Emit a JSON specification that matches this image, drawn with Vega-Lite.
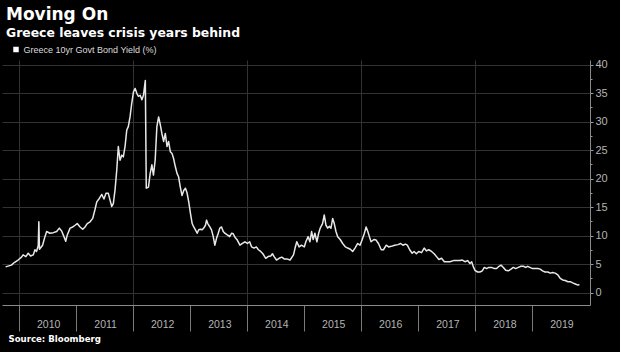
{
  "$schema": "https://vega.github.io/schema/vega-lite/v6.json",
  "width": 588,
  "height": 245,
  "autosize": {"type": "none"},
  "padding": {"left": 2, "top": 60, "right": 30, "bottom": 47},
  "background": "#000000",
  "title": {
    "text": "Moving On",
    "subtitle": "Greece leaves crisis years behind",
    "anchor": "start",
    "frame": "group",
    "font": "DejaVu Sans",
    "fontSize": 17,
    "fontWeight": "bold",
    "color": "#ffffff",
    "subtitleFont": "DejaVu Sans",
    "subtitleFontSize": 12.4,
    "subtitleFontWeight": "bold",
    "subtitleColor": "#ffffff",
    "subtitlePadding": 3,
    "offset": 5,
    "dx": 4
  },
  "config": {"view": {"stroke": null}},
  "data": {
    "values": [
      {"d": "2009-10-06", "v": 4.5}, {"d": "2009-11-12", "v": 4.8}, {"d": "2009-12-03", "v": 5.3}, {"d": "2009-12-25", "v": 5.7},
      {"d": "2010-01-16", "v": 6.2}, {"d": "2010-01-26", "v": 6.6}, {"d": "2010-02-13", "v": 6.3}, {"d": "2010-02-28", "v": 6.9},
      {"d": "2010-03-15", "v": 6.4}, {"d": "2010-04-01", "v": 6.6}, {"d": "2010-04-12", "v": 7.5}, {"d": "2010-04-22", "v": 7.2},
      {"d": "2010-05-03", "v": 8.2}, {"d": "2010-05-07", "v": 12.4}, {"d": "2010-05-11", "v": 7.6}, {"d": "2010-05-31", "v": 8.3},
      {"d": "2010-06-15", "v": 9.8}, {"d": "2010-06-26", "v": 10.7}, {"d": "2010-07-17", "v": 10.4}, {"d": "2010-08-08", "v": 10.5},
      {"d": "2010-08-29", "v": 10.7}, {"d": "2010-09-15", "v": 11.3}, {"d": "2010-09-30", "v": 10.8}, {"d": "2010-10-15", "v": 9.8},
      {"d": "2010-10-26", "v": 9.0}, {"d": "2010-11-05", "v": 10.1}, {"d": "2010-11-23", "v": 11.3}, {"d": "2010-12-10", "v": 11.5},
      {"d": "2010-12-25", "v": 11.8}, {"d": "2011-01-08", "v": 12.1}, {"d": "2011-01-26", "v": 11.5}, {"d": "2011-02-12", "v": 11.1},
      {"d": "2011-02-27", "v": 11.5}, {"d": "2011-03-13", "v": 12.1}, {"d": "2011-03-31", "v": 12.4}, {"d": "2011-04-17", "v": 13.0},
      {"d": "2011-05-02", "v": 14.6}, {"d": "2011-05-13", "v": 15.9}, {"d": "2011-05-29", "v": 16.5}, {"d": "2011-06-14", "v": 17.2},
      {"d": "2011-06-28", "v": 16.4}, {"d": "2011-07-11", "v": 17.4}, {"d": "2011-07-26", "v": 17.4}, {"d": "2011-08-06", "v": 16.2},
      {"d": "2011-08-17", "v": 15.1}, {"d": "2011-08-27", "v": 15.6}, {"d": "2011-09-07", "v": 18.0}, {"d": "2011-09-18", "v": 21.5},
      {"d": "2011-09-28", "v": 25.6}, {"d": "2011-10-09", "v": 23.2}, {"d": "2011-10-20", "v": 24.1}, {"d": "2011-10-30", "v": 23.8},
      {"d": "2011-11-10", "v": 25.6}, {"d": "2011-11-21", "v": 28.5}, {"d": "2011-12-01", "v": 29.1}, {"d": "2011-12-12", "v": 30.8},
      {"d": "2011-12-23", "v": 33.2}, {"d": "2012-01-03", "v": 35.2}, {"d": "2012-01-14", "v": 35.8}, {"d": "2012-01-25", "v": 34.9},
      {"d": "2012-02-04", "v": 34.4}, {"d": "2012-02-15", "v": 34.6}, {"d": "2012-02-26", "v": 33.8}, {"d": "2012-03-07", "v": 34.6},
      {"d": "2012-03-19", "v": 37.2}, {"d": "2012-03-25", "v": 18.3}, {"d": "2012-04-08", "v": 18.5}, {"d": "2012-04-19", "v": 20.9},
      {"d": "2012-04-30", "v": 22.4}, {"d": "2012-05-10", "v": 20.6}, {"d": "2012-05-21", "v": 23.2}, {"d": "2012-06-01", "v": 29.1},
      {"d": "2012-06-12", "v": 30.8}, {"d": "2012-06-23", "v": 29.4}, {"d": "2012-07-03", "v": 27.9}, {"d": "2012-07-14", "v": 26.5},
      {"d": "2012-07-25", "v": 27.9}, {"d": "2012-08-05", "v": 25.6}, {"d": "2012-08-15", "v": 26.5}, {"d": "2012-08-26", "v": 24.7},
      {"d": "2012-09-06", "v": 24.4}, {"d": "2012-09-16", "v": 23.5}, {"d": "2012-09-27", "v": 22.1}, {"d": "2012-10-08", "v": 20.9},
      {"d": "2012-10-18", "v": 20.3}, {"d": "2012-10-29", "v": 18.5}, {"d": "2012-11-09", "v": 17.0}, {"d": "2012-11-20", "v": 17.9},
      {"d": "2012-12-01", "v": 18.3}, {"d": "2012-12-11", "v": 17.5}, {"d": "2012-12-22", "v": 15.9}, {"d": "2013-01-02", "v": 13.9},
      {"d": "2013-01-13", "v": 12.1}, {"d": "2013-01-23", "v": 11.5}, {"d": "2013-02-03", "v": 11.0}, {"d": "2013-02-14", "v": 10.4},
      {"d": "2013-02-24", "v": 11.0}, {"d": "2013-03-07", "v": 11.1}, {"d": "2013-03-18", "v": 11.0}, {"d": "2013-03-28", "v": 11.3},
      {"d": "2013-04-08", "v": 11.8}, {"d": "2013-04-15", "v": 12.7}, {"d": "2013-04-23", "v": 12.1}, {"d": "2013-05-06", "v": 11.5},
      {"d": "2013-05-17", "v": 11.0}, {"d": "2013-05-28", "v": 9.8}, {"d": "2013-06-07", "v": 8.3}, {"d": "2013-06-18", "v": 9.5},
      {"d": "2013-06-29", "v": 10.4}, {"d": "2013-07-09", "v": 11.3}, {"d": "2013-07-20", "v": 11.5}, {"d": "2013-07-31", "v": 10.7},
      {"d": "2013-08-10", "v": 10.4}, {"d": "2013-08-26", "v": 10.1}, {"d": "2013-09-10", "v": 9.8}, {"d": "2013-09-23", "v": 10.4},
      {"d": "2013-10-03", "v": 10.3}, {"d": "2013-10-14", "v": 9.7}, {"d": "2013-10-29", "v": 9.2}, {"d": "2013-11-15", "v": 8.3},
      {"d": "2013-12-01", "v": 8.6}, {"d": "2013-12-17", "v": 8.9}, {"d": "2014-01-02", "v": 8.6}, {"d": "2014-01-16", "v": 8.9},
      {"d": "2014-01-29", "v": 8.0}, {"d": "2014-02-13", "v": 7.8}, {"d": "2014-02-28", "v": 8.0}, {"d": "2014-03-13", "v": 7.5},
      {"d": "2014-03-28", "v": 7.2}, {"d": "2014-04-11", "v": 6.8}, {"d": "2014-04-29", "v": 6.0}, {"d": "2014-05-14", "v": 6.3},
      {"d": "2014-05-31", "v": 6.4}, {"d": "2014-06-11", "v": 6.8}, {"d": "2014-06-22", "v": 6.3}, {"d": "2014-07-07", "v": 5.7},
      {"d": "2014-07-24", "v": 6.0}, {"d": "2014-08-10", "v": 6.2}, {"d": "2014-08-25", "v": 5.9}, {"d": "2014-09-11", "v": 5.9},
      {"d": "2014-10-02", "v": 5.7}, {"d": "2014-10-24", "v": 6.6}, {"d": "2014-11-03", "v": 7.8}, {"d": "2014-11-14", "v": 8.9},
      {"d": "2014-11-29", "v": 8.0}, {"d": "2014-12-14", "v": 8.3}, {"d": "2015-01-01", "v": 8.0}, {"d": "2015-01-11", "v": 8.9},
      {"d": "2015-01-26", "v": 9.8}, {"d": "2015-02-06", "v": 8.9}, {"d": "2015-02-17", "v": 10.7}, {"d": "2015-02-27", "v": 9.3},
      {"d": "2015-03-10", "v": 10.4}, {"d": "2015-03-23", "v": 8.9}, {"d": "2015-04-03", "v": 10.4}, {"d": "2015-04-13", "v": 11.3},
      {"d": "2015-04-28", "v": 12.1}, {"d": "2015-05-09", "v": 13.6}, {"d": "2015-05-20", "v": 11.8}, {"d": "2015-05-31", "v": 11.3},
      {"d": "2015-06-10", "v": 11.6}, {"d": "2015-06-21", "v": 11.3}, {"d": "2015-07-02", "v": 13.0}, {"d": "2015-07-12", "v": 12.1},
      {"d": "2015-07-23", "v": 10.7}, {"d": "2015-08-03", "v": 9.8}, {"d": "2015-08-19", "v": 9.3}, {"d": "2015-09-04", "v": 8.6},
      {"d": "2015-09-21", "v": 8.0}, {"d": "2015-10-06", "v": 7.8}, {"d": "2015-10-23", "v": 7.6}, {"d": "2015-11-07", "v": 7.2},
      {"d": "2015-11-22", "v": 7.8}, {"d": "2015-12-09", "v": 8.6}, {"d": "2015-12-24", "v": 8.3}, {"d": "2016-01-06", "v": 9.2},
      {"d": "2016-01-21", "v": 10.4}, {"d": "2016-02-01", "v": 11.5}, {"d": "2016-02-12", "v": 10.7}, {"d": "2016-02-22", "v": 9.8},
      {"d": "2016-03-04", "v": 8.9}, {"d": "2016-03-22", "v": 9.3}, {"d": "2016-04-05", "v": 9.2}, {"d": "2016-04-20", "v": 8.6},
      {"d": "2016-05-08", "v": 7.5}, {"d": "2016-05-22", "v": 7.5}, {"d": "2016-06-09", "v": 8.3}, {"d": "2016-06-24", "v": 8.0},
      {"d": "2016-07-11", "v": 8.1}, {"d": "2016-08-02", "v": 8.3}, {"d": "2016-08-23", "v": 8.4}, {"d": "2016-09-09", "v": 8.6},
      {"d": "2016-09-24", "v": 8.3}, {"d": "2016-10-09", "v": 8.5}, {"d": "2016-10-22", "v": 8.3}, {"d": "2016-11-06", "v": 7.5},
      {"d": "2016-11-22", "v": 6.9}, {"d": "2016-12-04", "v": 7.2}, {"d": "2016-12-19", "v": 6.8}, {"d": "2017-01-03", "v": 7.2},
      {"d": "2017-01-21", "v": 7.0}, {"d": "2017-02-07", "v": 7.8}, {"d": "2017-02-22", "v": 7.3}, {"d": "2017-03-08", "v": 7.5},
      {"d": "2017-03-26", "v": 7.2}, {"d": "2017-04-12", "v": 6.8}, {"d": "2017-04-27", "v": 6.3}, {"d": "2017-05-12", "v": 5.8},
      {"d": "2017-05-29", "v": 6.0}, {"d": "2017-06-16", "v": 5.4}, {"d": "2017-07-01", "v": 5.4}, {"d": "2017-07-22", "v": 5.4},
      {"d": "2017-08-13", "v": 5.6}, {"d": "2017-09-03", "v": 5.6}, {"d": "2017-09-24", "v": 5.6}, {"d": "2017-10-09", "v": 5.7},
      {"d": "2017-10-26", "v": 5.4}, {"d": "2017-11-12", "v": 5.6}, {"d": "2017-11-27", "v": 5.1}, {"d": "2017-12-08", "v": 5.4},
      {"d": "2017-12-19", "v": 4.5}, {"d": "2017-12-29", "v": 3.9}, {"d": "2018-01-15", "v": 3.6}, {"d": "2018-01-30", "v": 3.6},
      {"d": "2018-02-14", "v": 3.8}, {"d": "2018-02-27", "v": 4.4}, {"d": "2018-03-14", "v": 4.2}, {"d": "2018-03-28", "v": 4.4},
      {"d": "2018-04-15", "v": 4.4}, {"d": "2018-05-02", "v": 4.2}, {"d": "2018-05-17", "v": 4.2}, {"d": "2018-06-01", "v": 4.6},
      {"d": "2018-06-14", "v": 4.8}, {"d": "2018-06-29", "v": 4.4}, {"d": "2018-07-14", "v": 3.9}, {"d": "2018-07-31", "v": 3.8},
      {"d": "2018-08-17", "v": 4.1}, {"d": "2018-09-01", "v": 4.4}, {"d": "2018-09-16", "v": 4.2}, {"d": "2018-10-03", "v": 4.4},
      {"d": "2018-10-20", "v": 4.6}, {"d": "2018-11-04", "v": 4.6}, {"d": "2018-11-19", "v": 4.4}, {"d": "2018-12-02", "v": 4.6},
      {"d": "2018-12-16", "v": 4.4}, {"d": "2019-01-02", "v": 4.2}, {"d": "2019-01-18", "v": 4.2}, {"d": "2019-02-05", "v": 4.2},
      {"d": "2019-02-20", "v": 4.1}, {"d": "2019-03-07", "v": 3.8}, {"d": "2019-03-23", "v": 3.6}, {"d": "2019-04-10", "v": 3.6},
      {"d": "2019-04-25", "v": 3.4}, {"d": "2019-05-10", "v": 3.5}, {"d": "2019-05-27", "v": 3.4}, {"d": "2019-06-13", "v": 3.1},
      {"d": "2019-06-28", "v": 2.5}, {"d": "2019-07-14", "v": 2.2}, {"d": "2019-07-30", "v": 2.1}, {"d": "2019-08-17", "v": 1.9},
      {"d": "2019-09-01", "v": 1.9}, {"d": "2019-09-16", "v": 1.7}, {"d": "2019-10-03", "v": 1.5}, {"d": "2019-10-20", "v": 1.3},
      {"d": "2019-10-29", "v": 1.4}
    ]
  },
  "mark": {"type": "line", "strokeWidth": 1.5, "strokeJoin": "round"},
  "encoding": {
    "x": {
      "field": "d",
      "type": "temporal",
      "scale": {
        "domain": [
          {"year": 2009, "month": 9, "date": 13, "utc": true},
          {"year": 2020, "month": 1, "date": 5, "utc": true}
        ]
      },
      "axis": {
        "values": [
          {"year": 2010, "month": 1, "date": 1, "utc": true},
          {"year": 2011, "month": 1, "date": 1, "utc": true},
          {"year": 2012, "month": 1, "date": 1, "utc": true},
          {"year": 2013, "month": 1, "date": 1, "utc": true},
          {"year": 2014, "month": 1, "date": 1, "utc": true},
          {"year": 2015, "month": 1, "date": 1, "utc": true},
          {"year": 2016, "month": 1, "date": 1, "utc": true},
          {"year": 2017, "month": 1, "date": 1, "utc": true},
          {"year": 2018, "month": 1, "date": 1, "utc": true},
          {"year": 2019, "month": 1, "date": 1, "utc": true}
        ],
        "labelExpr": "utcFormat(datum.value, '%Y')",
        "labelOffset": 29,
        "labelAlign": "center",
        "labelBaseline": "top",
        "labelPadding": -12,
        "labelFlush": false,
        "labelOverlap": false,
        "tickSize": 26,
        "tickColor": "#7a7a7a",
        "domainColor": "#8a8a8a",
        "labelColor": "#b4b4b4",
        "labelFont": "Liberation Sans",
        "labelFontSize": 10.5,
        "grid": true,
        "gridColor": "#333333",
        "gridOpacity": {"condition": {"test": "utcyear(datum.value) % 2 == 0", "value": 1}, "value": 0},
        "title": "Source: Bloomberg",
        "titleFont": "DejaVu Sans",
        "titleFontSize": 8.6,
        "titleFontWeight": "bold",
        "titleColor": "#ffffff",
        "titleAnchor": "start",
        "titleAlign": "left",
        "titleBaseline": "alphabetic",
        "titleX": 6,
        "titleY": 36.5
      }
    },
    "y": {
      "field": "v",
      "type": "quantitative",
      "scale": {"domain": [-2.19, 40.79], "nice": false, "zero": false},
      "axis": {
        "orient": "right",
        "title": null,
        "values": [0, 2.5, 5, 7.5, 10, 12.5, 15, 17.5, 20, 22.5, 25, 27.5, 30, 32.5, 35, 37.5, 40],
        "labelExpr": "datum.value % 5 == 0 ? datum.label : ''",
        "labelOverlap": false,
        "tickSize": {"condition": {"test": "datum.value % 5 == 0", "value": 3}, "value": 2},
        "tickColor": "#9a9a9a",
        "domainColor": "#8a8a8a",
        "labelColor": "#b4b4b4",
        "labelFont": "Liberation Sans",
        "labelFontSize": 11,
        "labelPadding": 2,
        "grid": true,
        "gridColor": "#333333",
        "gridOpacity": {"condition": {"test": "datum.value % 5 == 0", "value": 1}, "value": 0}
      }
    },
    "color": {
      "datum": "Greece 10yr Govt Bond Yield (%)",
      "type": "nominal",
      "scale": {"range": ["#e8e8e8"]},
      "legend": {
        "orient": "none",
        "legendX": 9.5,
        "legendY": -15,
        "title": null,
        "padding": 0,
        "symbolType": "square",
        "symbolSize": 30,
        "symbolFillColor": "#ffffff",
        "symbolStrokeColor": "#ffffff",
        "symbolStrokeWidth": 0,
        "labelFont": "Liberation Sans",
        "labelFontSize": 9,
        "labelColor": "#dcdcdc",
        "labelOffset": 3
      }
    }
  }
}
